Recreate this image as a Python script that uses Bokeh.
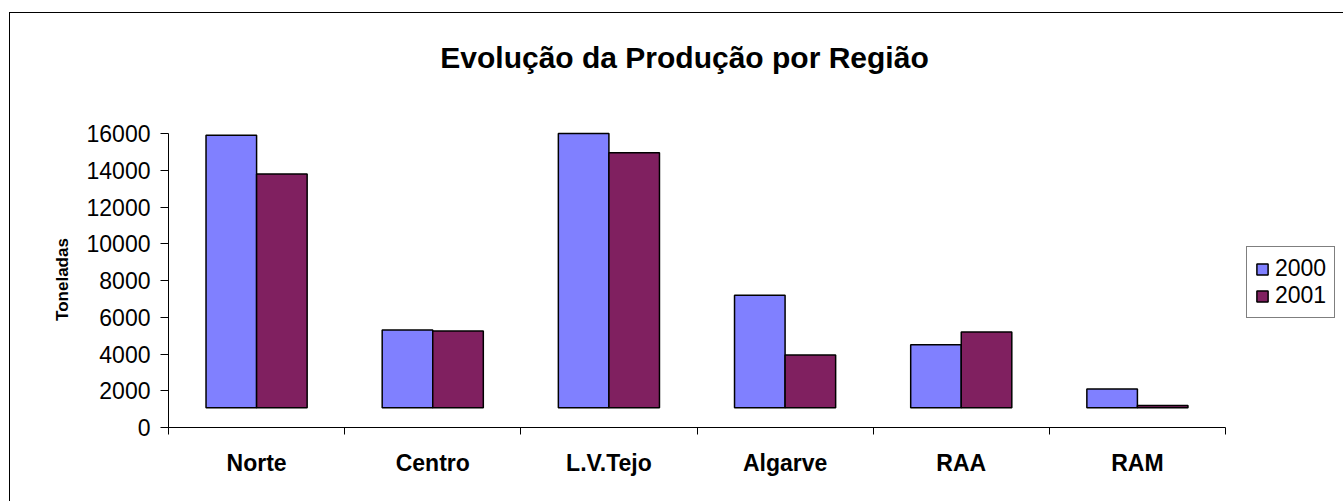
from bokeh.plotting import figure
from bokeh.models import FixedTicker, Legend, LegendItem, Range1d, ColumnDataSource, Label
from bokeh.embed import file_html
from bokeh.resources import INLINE
import numpy as np

# ---- data ----
categories = ["Norte", "Centro", "L.V.Tejo", "Algarve", "RAA", "RAM"]
series_names = ["2000", "2001"]
values_2000 = [15900, 5300, 16000, 7200, 4500, 2100]
values_2001 = [13800, 5250, 14950, 3950, 5200, 1200]
bar_base = 1080
y_max = 16000
y_ticks = [0, 2000, 4000, 6000, 8000, 10000, 12000, 14000, 16000]
y_axis_title = "Toneladas"
chart_title = "Evolução da Produção por Região"

colors = ["#8080FF", "#802060"]
FONT = "Liberation Sans"

n = len(categories)
centers = np.arange(n) + 0.5
bounds = list(np.arange(n + 1).astype(float))
bar_w = 0.287

# layout (pixels)
W, H = 1334, 489
left_px, bottom_px = 158, 75
x_axis_px = 1057                    # pixel length of the category axis
y_axis_px = 294                     # pixel length of the value axis
frame_w = W - left_px
frame_h = H - bottom_px
x_end = n * frame_w / x_axis_px     # frame extends under legend and title
y_end = y_max * frame_h / y_axis_px
# the axis title is centred on the whole frame; pad its end with no-break
# spaces so that the visible word sits centred on the 0..16000 span
pad = "\u00a0" * 25

p = figure(width=W, height=H, output_backend="svg", toolbar_location=None,
           x_range=Range1d(0, x_end), y_range=Range1d(0, y_end),
           min_border_left=left_px, min_border_right=0, min_border_top=0,
           min_border_bottom=bottom_px)
p.styles = {"border-left": "1px solid black", "border-top": "1px solid black"}
p.margin = (12, 0, 0, 9)

renderers = []
for k, (name, vals) in enumerate(zip(series_names, [values_2000, values_2001])):
    src = ColumnDataSource(dict(x=centers + (k - 0.5) * bar_w, top=vals,
                                bottom=[bar_base] * n))
    r = p.vbar(x="x", top="top", bottom="bottom", width=bar_w, source=src,
               fill_color=colors[k], line_color="black", line_width=1.5)
    renderers.append(r)

p.xgrid.visible = False
p.ygrid.visible = False
p.outline_line_color = None
p.background_fill_color = "white"
p.border_fill_color = "white"

# x axis: labels at category centres, tick marks between categories
xa = p.xaxis[0]
xa.bounds = (0, n)
xa.ticker = FixedTicker(ticks=list(centers), minor_ticks=bounds)
xa.major_label_overrides = {float(c): lab for c, lab in zip(centers, categories)}
xa.major_tick_out = 0
xa.major_tick_in = 0
xa.minor_tick_out = 7
xa.minor_tick_in = 0
xa.minor_tick_line_color = "black"
xa.axis_line_color = "black"
xa.major_label_text_font = FONT
xa.major_label_text_font_size = "23px"
xa.major_label_text_font_style = "bold"
xa.major_label_text_color = "black"
xa.major_label_standoff = 15

ya = p.yaxis[0]
ya.bounds = (0, y_max)
ya.ticker = FixedTicker(ticks=y_ticks, minor_ticks=[])
ya.major_tick_out = 8
ya.major_tick_in = 0
ya.major_tick_line_color = "black"
ya.axis_line_color = "black"
ya.major_label_text_font = FONT
ya.major_label_text_font_size = "23px"
ya.major_label_text_color = "black"
ya.major_label_standoff = 10
ya.axis_label = y_axis_title + pad
ya.axis_label_text_font = FONT
ya.axis_label_text_font_size = "17px"
ya.axis_label_text_font_style = "bold"
ya.axis_label_text_color = "black"
ya.axis_label_standoff = 12

# chart title
p.add_layout(Label(x=516, y=370, x_units="screen", y_units="screen",
                   text=chart_title, text_font=FONT, text_font_size="30px",
                   text_font_style="bold", text_color="black",
                   text_align="center", text_baseline="alphabetic"))

legend = Legend(items=[LegendItem(label=s, renderers=[r]) for s, r in zip(series_names, renderers)],
                location=(1078, 109), margin=0, padding=8, spacing=0,
                label_standoff=6, glyph_width=14, glyph_height=14,
                label_text_font=FONT, label_text_font_size="23px",
                label_text_color="black", border_line_color="black",
                border_line_width=1, background_fill_color="white")
p.add_layout(legend)

open("out.html", "w").write(file_html(p, INLINE))
